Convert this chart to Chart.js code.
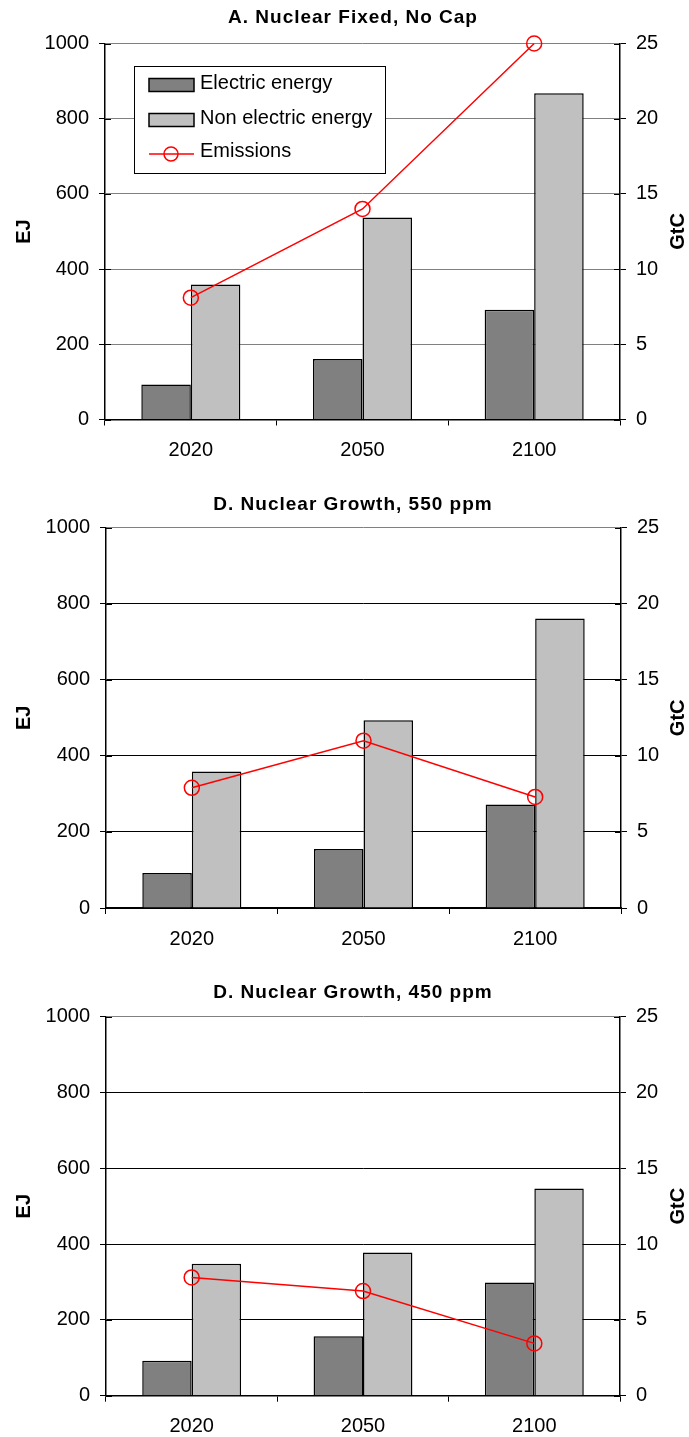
<!DOCTYPE html>
<html><head><meta charset="utf-8">
<script src="https://cdn.jsdelivr.net/npm/chart.js@4"></script>
<style>
html,body{margin:0;padding:0;background:#fff;}
body{width:689px;height:1437px;position:relative;overflow:hidden;}
canvas{position:absolute;left:0;}
</style></head><body>
<canvas id="c1"></canvas>
<canvas id="c2"></canvas>
<canvas id="c3"></canvas>
<script>
// ---- data ----
const categories = ['2020', '2050', '2100'];
const panelTitles = ['A. Nuclear Fixed, No Cap', 'D. Nuclear Growth, 550 ppm', 'D. Nuclear Growth, 450 ppm'];
const seriesNames = ['Electric energy', 'Non electric energy', 'Emissions'];
const leftAxisTitle = 'EJ';
const rightAxisTitle = 'GtC';

const electricA = [93, 161, 292];
const nonElectricA = [359, 537, 868];
const emissionsA = [8.1, 14.0, 25.0];

const electricB = [92, 155, 272];
const nonElectricB = [359, 494, 761];
const emissionsB = [7.9, 11.0, 7.3];

const electricC = [92, 157, 299];
const nonElectricC = [348, 378, 547];
const emissionsC = [7.8, 6.9, 3.45];

const ejTicks = [0, 200, 400, 600, 800, 1000];
const gtcTicks = [0, 5, 10, 15, 20, 25];

// ---- layout / style ----
const W = 689;
const panels = [
  {id:'c1', top:0,   H:470, titleC:18, areaTop:43.5, areaBottom:419.5, left:105, right:620, grid:'#808080', legend:true,
   data:[electricA, nonElectricA, emissionsA], title:panelTitles[0]},
  {id:'c2', top:487, H:480, titleC:18, areaTop:40.7, areaBottom:421, left:106, right:621, grid:'#000000', legend:false,
   data:[electricB, nonElectricB, emissionsB], title:panelTitles[1]},
  {id:'c3', top:975, H:462, titleC:18, areaTop:41.7, areaBottom:420.7, left:106, right:620, grid:'#000000', legend:false,
   data:[electricC, nonElectricC, emissionsC], title:panelTitles[2]}
];
const FONT = "'Liberation Sans', Arial, sans-serif";
const DARK = '#808080', LIGHT = '#C0C0C0', RED = '#FF0000', GREY = '#808080';

const extras = {
  id:'extras',
  afterDraw(chart, args, opts){
    const ctx = chart.ctx, a = chart.chartArea;
    const y = chart.scales.y, y2 = chart.scales.y2;
    ctx.save();
    ctx.strokeStyle = '#000'; ctx.lineWidth = 1;
    ctx.beginPath();
    y.ticks.forEach(t => { const p = Math.round(y.getPixelForValue(t.value)) + 0.5; ctx.moveTo(a.left, p); ctx.lineTo(a.left + 6, p); });
    y2.ticks.forEach(t => { const p = Math.round(y2.getPixelForValue(t.value)) + 0.5; ctx.moveTo(a.right - 6, p); ctx.lineTo(a.right, p); });
    ctx.stroke();
    ctx.fillStyle = '#000';
    ctx.font = 'bold 19px ' + FONT;
    ctx.textAlign = 'center'; ctx.textBaseline = 'middle';
    if ('letterSpacing' in ctx) ctx.letterSpacing = '1px';
    ctx.fillText(opts.title, 353, opts.titleC);
    if ('letterSpacing' in ctx) ctx.letterSpacing = '0px';
    ctx.font = 'bold 20px ' + FONT;
    ctx.translate(678, (a.top + a.bottom) / 2);
    ctx.rotate(-Math.PI / 2);
    ctx.fillText(rightAxisTitle, 0, 0);
    ctx.restore();
  }
};

const boxLegend = {
  id:'boxLegend',
  afterDraw(chart, args, opts){
    if (!opts.show) return;
    const ctx = chart.ctx;
    const ds = chart.data.datasets;
    ctx.save();
    ctx.fillStyle = '#fff';
    ctx.fillRect(134.5, 66.5, 251, 107);
    ctx.strokeStyle = '#000'; ctx.lineWidth = 1;
    ctx.strokeRect(134.5, 66.5, 251, 107);
    const rows = [85, 120, 153];
    ctx.font = '20px ' + FONT;
    ctx.textBaseline = 'middle'; ctx.textAlign = 'left';
    [0, 1].forEach(i => {
      ctx.fillStyle = ds[i].backgroundColor;
      ctx.fillRect(149, rows[i] - 6.5, 45, 13);
      ctx.lineWidth = 1.5; ctx.strokeStyle = '#000';
      ctx.strokeRect(149, rows[i] - 6.5, 45, 13);
    });
    ctx.strokeStyle = RED; ctx.lineWidth = 1.5;
    ctx.beginPath(); ctx.moveTo(149, rows[2] + 1); ctx.lineTo(194, rows[2] + 1); ctx.stroke();
    ctx.beginPath(); ctx.arc(171, rows[2] + 1, 7, 0, Math.PI * 2); ctx.stroke();
    ctx.fillStyle = '#000';
    ds.forEach((d, i) => ctx.fillText(d.label, 200, rows[i] - 2));
    ctx.restore();
  }
};

panels.forEach(p => {
  const cv = document.getElementById(p.id);
  cv.width = W; cv.height = p.H;
  cv.style.top = p.top + 'px'; cv.style.width = W + 'px'; cv.style.height = p.H + 'px';
  new Chart(cv, {
    type:'bar',
    data:{
      labels: categories,
      datasets:[
        {label:seriesNames[0], data:p.data[0], backgroundColor:DARK, borderColor:'#000', borderWidth:1.5, yAxisID:'y', order:2,
         categoryPercentage:0.577, barPercentage:1.0},
        {label:seriesNames[1], data:p.data[1], backgroundColor:LIGHT, borderColor:'#000', borderWidth:1.5, yAxisID:'y', order:2,
         categoryPercentage:0.577, barPercentage:1.0},
        {type:'line', label:seriesNames[2], data:p.data[2], borderColor:RED, borderWidth:1.5, yAxisID:'y2', order:0,
         pointStyle:'circle', pointRadius:7.5, pointBorderWidth:1.5, pointBackgroundColor:'rgba(0,0,0,0)', pointBorderColor:RED,
         tension:0, fill:false, clip:false}
      ]
    },
    options:{
      responsive:false, animation:false, devicePixelRatio:1,
      layout:{padding:{left:0, right:0, top:p.areaTop, bottom:0}},
      plugins:{
        legend:{display:false}, tooltip:{enabled:false}, title:{display:false},
        boxLegend:{show:p.legend},
        extras:{title:p.title, titleC:p.titleC}
      },
      scales:{
        x:{
          type:'category',
          grid:{display:true, offset:true, drawOnChartArea:false, drawTicks:true, tickLength:6, tickColor:'#000', color:'#000'},
          border:{display:true, color:'#000', width:1.5},
          ticks:{color:'#000', font:{family:FONT, size:20}, padding:13, maxRotation:0},
          afterFit(s){ s.height = p.H - p.areaBottom; }
        },
        y:{
          position:'left', min:ejTicks[0], max:ejTicks[ejTicks.length-1],
          afterBuildTicks(s){ s.ticks = ejTicks.map(v => ({value:v})); },
          grid:{color:c => (c.tick && c.tick.value === 0) ? '#000' : (c.tick && c.tick.value === ejTicks[ejTicks.length-1] ? GREY : p.grid),
                lineWidth:1, tickLength:6, tickColor:'#000'},
          border:{display:true, color:'#000', width:1.5},
          ticks:{color:'#000', font:{family:FONT, size:20}, padding:10, callback:v => String(v)},
          title:{display:true, text:leftAxisTitle, color:'#000', font:{family:FONT, size:20, weight:'bold', lineHeight:1.2}, padding:{top:12, bottom:0}},
          afterFit(s){ s.width = p.left; }
        },
        y2:{
          position:'right', min:gtcTicks[0], max:gtcTicks[gtcTicks.length-1],
          afterBuildTicks(s){ s.ticks = gtcTicks.map(v => ({value:v})); },
          grid:{drawOnChartArea:false, tickLength:6, tickColor:'#000', color:'#000'},
          border:{display:true, color:'#000', width:1.5},
          ticks:{color:'#000', font:{family:FONT, size:20}, padding:10, callback:v => String(v)},
          afterFit(s){ s.width = W - p.right; }
        }
      }
    },
    plugins:[extras, boxLegend]
  });
});
</script>
</body></html>
